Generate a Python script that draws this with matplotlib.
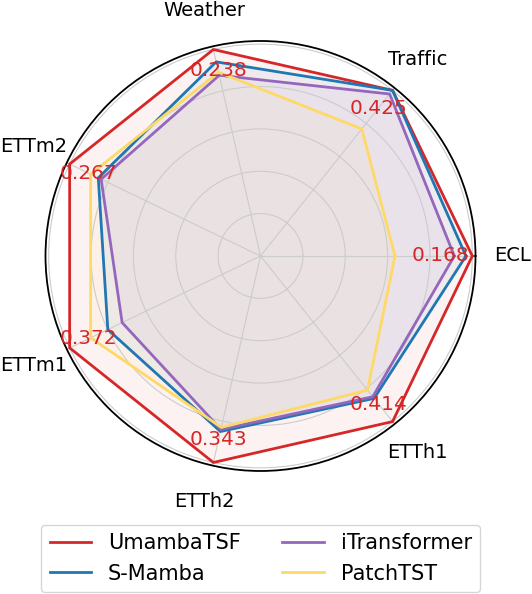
import matplotlib
matplotlib.use('Agg')
import matplotlib.pyplot as plt
import numpy as np

categories = ['ECL', 'Traffic', 'Weather', 'ETTm2', 'ETTm1', 'ETTh2', 'ETTh1']
models = ['UmambaTSF', 'S-Mamba', 'iTransformer', 'PatchTST']

# normalised scores (outer = better)
umamba = [1.0, 1.0, 1.0, 1.0, 1.0, 1.0, 1.0]
smamba = [0.97, 1.0, 0.94, 0.85, 0.80, 0.85, 0.86]
itrans = [0.915, 0.978, 0.875, 0.835, 0.725, 0.84, 0.85]
patch = [0.635, 0.767, 0.89, 0.89, 0.89, 0.83, 0.81]

# UmambaTSF MSE shown on the chart
umamba_mse = ['0.168', '0.425', '0.238', '0.267', '0.372', '0.343', '0.414']
label_r = [0.85, 0.89, 0.90, 0.90, 0.90, 0.89, 0.895]

colors = ['#d62728', '#1f77b4', '#9467bd', '#ffd966']

theta = np.linspace(0, 2 * np.pi, len(categories), endpoint=False)
theta_c = np.append(theta, theta[0])

fig = plt.figure(figsize=(5.32, 5.94), dpi=100)
ax = fig.add_axes([0.0855, 0.2071, 0.8083, 0.7239], projection='polar')

for name, data, c in zip(models, [umamba, smamba, itrans, patch], colors):
    d = np.append(data, data[0])
    ax.plot(theta_c, d, color=c, lw=2, label=name)
    ax.fill(theta_c, d, color=c, alpha=0.06)

for t, r, s in zip(theta, label_r, umamba_mse):
    ax.text(t, r, s, color='#d62728', fontsize=14.5, ha='center', va='center')

ax.set_xticks(theta)
ax.set_xticklabels(categories, fontsize=14)
ax.tick_params(axis='x', pad=16)
ax.set_yticks([0.2, 0.4, 0.6, 0.8, 1.0])
ax.set_yticklabels([])
ax.set_ylim(0, 1.015)
ax.grid(color='#cccccc', lw=0.8)
ax.spines['polar'].set_linewidth(1.3)

fig.legend(loc='upper center', bbox_to_anchor=(0.49, 0.134), ncol=2,
           fontsize=15)

fig.savefig('out.png', dpi=100)
